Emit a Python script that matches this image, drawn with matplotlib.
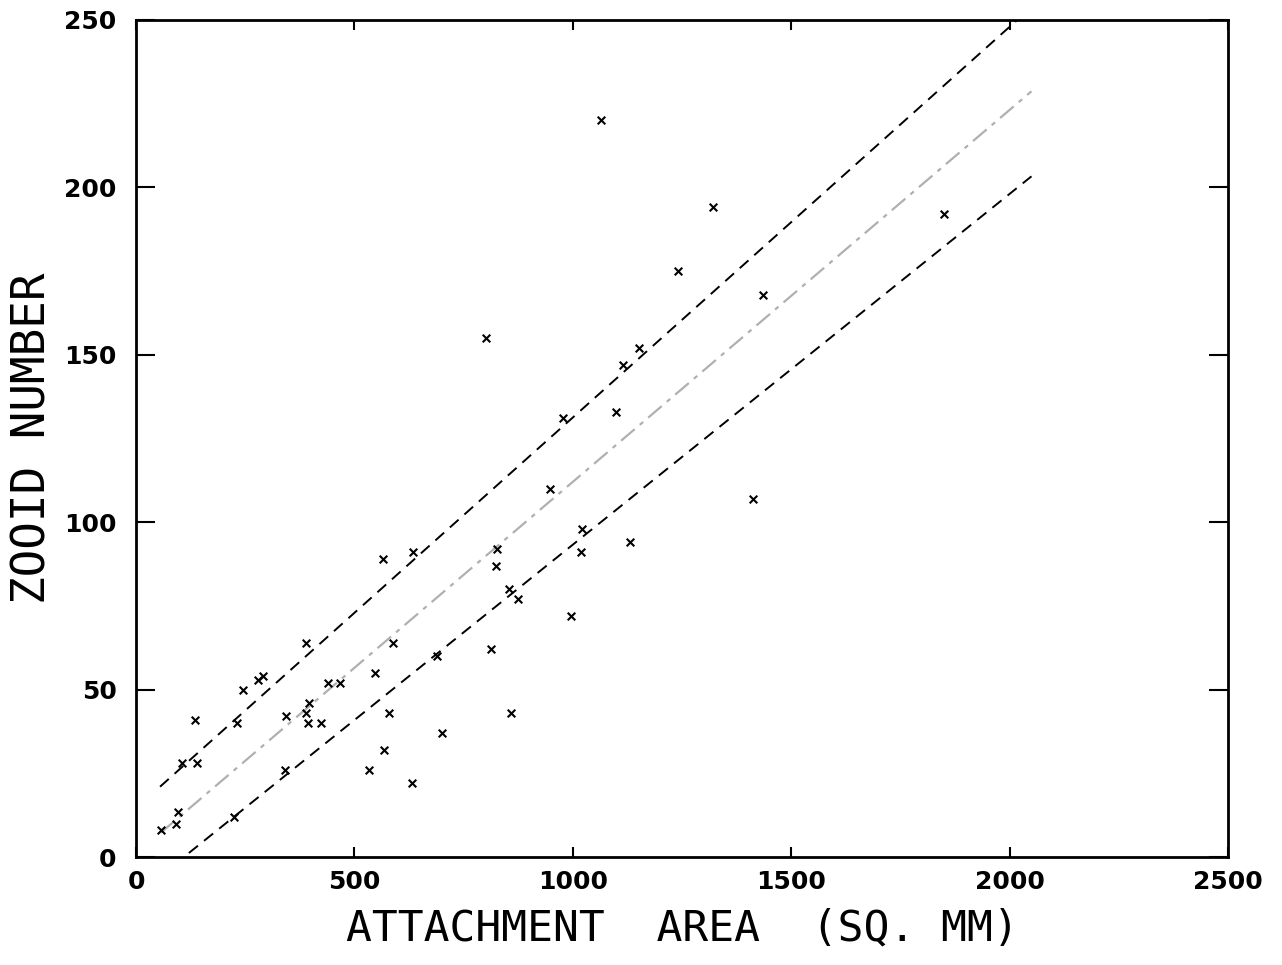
import numpy as np
import matplotlib
matplotlib.use("Agg")
import matplotlib.pyplot as plt

# attachment area (sq. mm) and zooid number
area = [57, 92, 96, 105, 139, 135, 224, 231, 245, 279, 291, 343, 341, 389,
        389, 395, 394, 424, 440, 467, 547, 565, 568, 534, 579, 588, 632, 634,
        689, 700, 801, 813, 824, 826, 854, 859, 874, 948, 978, 996, 1019, 1021,
        1064, 1099, 1115, 1131, 1152, 1241, 1321, 1412, 1435, 1850]
zooids = [8, 10, 13.5, 28, 28, 41, 12, 40, 50, 53, 54, 42, 26, 64,
          43, 46, 40, 40, 52, 52, 55, 89, 32, 26, 43, 64, 22, 91,
          60, 37, 155, 62, 87, 92, 80, 43, 77, 110, 131, 72, 91, 98,
          220, 133, 147, 94, 152, 175, 194, 107, 168, 192]

# regression line and its bounds (end points)
fit_x = [57, 2050]
fit_y = [7.3, 228.7]
upper_x = [55, 2050]
upper_y = [21.0, 253.8]
lower_x = [121, 2050]
lower_y = [1.2, 203.3]

fig = plt.figure(figsize=(12.82, 9.65), dpi=100)
ax = fig.add_axes([0.1061, 0.1119, 0.8518, 0.8674])

ax.plot(fit_x, fit_y, color="#b0b0b0", lw=1.6, ls=(0, (8, 3, 2, 3)))
ax.plot(upper_x, upper_y, color="black", lw=1.4, ls=(0, (6, 4)))
ax.plot(lower_x, lower_y, color="black", lw=1.4, ls=(0, (6, 4)))
ax.scatter(area, zooids, marker="x", s=30, c="black", linewidths=1.5, zorder=3)

ax.set_xlim(0, 2500)
ax.set_ylim(0, 250)
ax.set_xticks([0, 500, 1000, 1500, 2000, 2500])
ax.set_yticks([0, 50, 100, 150, 200, 250])
ax.tick_params(axis="y", direction="in", length=14, width=1.5, right=True,
               labelsize=18, pad=14)
ax.tick_params(axis="x", direction="in", length=7, width=1.5, top=True,
               labelsize=18, pad=9)
for lab in ax.get_xticklabels() + ax.get_yticklabels():
    lab.set_fontweight("bold")
for s in ax.spines.values():
    s.set_linewidth(2)

ax.set_xlabel("ATTACHMENT  AREA  (SQ. MM)", family="DejaVu Sans Mono",
              fontsize=31, labelpad=10)
ax.set_ylabel("ZOOID NUMBER", family="DejaVu Sans Mono", fontsize=33,
              labelpad=6)

fig.savefig("out.png", dpi=100)
